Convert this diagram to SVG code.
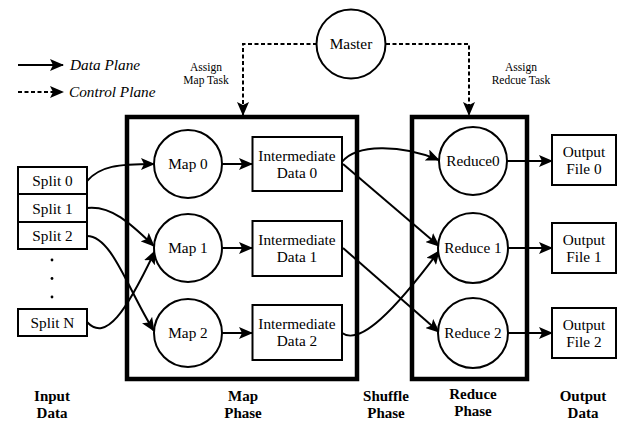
<svg xmlns="http://www.w3.org/2000/svg" width="619" height="421" viewBox="0 0 619 421">
  <style>
    text { font-family: "Liberation Serif", "Times New Roman", serif; fill: #000; }
    .lbl { font-size: 15.3px; text-anchor: middle; }
    .small { font-size: 11.5px; text-anchor: middle; }
    .leg { font-size: 15.3px; font-style: italic; }
    .phase { font-size: 15px; font-weight: bold; text-anchor: middle; }
    .node { fill: #fff; stroke: #000; stroke-width: 2; }
    .stage { fill: none; stroke: #000; stroke-width: 4.5; }
    .flow { fill: none; stroke: #000; stroke-width: 2; marker-end: url(#arrow); }
    .ctrl { fill: none; stroke: #000; stroke-width: 2; stroke-dasharray: 4 2.5; marker-end: url(#arrow); }
  </style>
  <defs>
    <marker id="arrow" markerUnits="userSpaceOnUse" markerWidth="14" markerHeight="12" viewBox="0 0 14 12" refX="13" refY="6" orient="auto">
      <path d="M0,0 L14,6 L0,12 L3,6 Z" fill="#000"/>
    </marker>
  </defs>

  <!-- legend -->
  <g id="legend">
    <line class="flow" x1="18" y1="65" x2="63" y2="65"/>
    <text class="leg" x="70" y="70">Data Plane</text>
    <line class="ctrl" x1="18" y1="92" x2="63" y2="92"/>
    <text class="leg" x="69" y="97">Control Plane</text>
  </g>

  <!-- phase containers -->
  <g id="map-phase">
    <rect class="stage" x="127" y="117" width="230" height="262"/>
  </g>
  <g id="reduce-phase">
    <rect class="stage" x="412" y="117" width="115" height="262"/>
  </g>

  <!-- connectors -->
  <g id="connectors">
    <!-- control plane -->
    <polyline class="ctrl" points="317,44 243,44 243,115"/>
    <polyline class="ctrl" points="386,44 469,44 469,115"/>
    <!-- splits to mappers -->
    <path class="flow" d="M87,181 C100,166 118,164 154,164"/>
    <path class="flow" d="M87,208 C112,205 132,225 154,246"/>
    <path class="flow" d="M87,236 C112,236 128,290 154,331"/>
    <path class="flow" d="M87,322 C106,342 126,312 155,251"/>
    <!-- mappers to intermediate data -->
    <line class="flow" x1="222" y1="164" x2="252" y2="164"/>
    <line class="flow" x1="222" y1="248" x2="252" y2="248"/>
    <line class="flow" x1="222" y1="333" x2="252" y2="333"/>
    <!-- shuffle -->
    <path class="flow" d="M342,162 C356,144 400,144 439,160"/>
    <line class="flow" x1="343" y1="164" x2="439" y2="246"/>
    <line class="flow" x1="343" y1="248" x2="439" y2="332"/>
    <path class="flow" d="M342,333 C360,346 395,310 439,251"/>
    <!-- reducers to output -->
    <line class="flow" x1="507" y1="161" x2="552" y2="161"/>
    <line class="flow" x1="508" y1="248" x2="552" y2="248"/>
    <line class="flow" x1="508" y1="333" x2="552" y2="333"/>
  </g>

  <g id="master">
    <circle class="node" cx="351" cy="44" r="34.5"/>
    <text class="lbl" x="351" y="49">Master</text>
  </g>
  <g id="assign-map-label">
    <text class="small" x="206" y="71">Assign</text>
    <text class="small" x="206" y="84">Map Task</text>
  </g>
  <g id="assign-reduce-label">
    <text class="small" x="521" y="71">Assign</text>
    <text class="small" x="521" y="84">Redcue Task</text>
  </g>

  <!-- input splits -->
  <g id="split-0">
    <rect class="node" x="18" y="167" width="69" height="27"/>
    <text class="lbl" x="52.5" y="186">Split 0</text>
  </g>
  <g id="split-1">
    <rect class="node" x="18" y="194" width="69" height="28"/>
    <text class="lbl" x="52.5" y="213.5">Split 1</text>
  </g>
  <g id="split-2">
    <rect class="node" x="18" y="222" width="69" height="27"/>
    <text class="lbl" x="52.5" y="241">Split 2</text>
  </g>
  <g id="split-dots">
    <circle cx="52" cy="260" r="1.4" fill="#000"/>
    <circle cx="52" cy="278.5" r="1.4" fill="#000"/>
    <circle cx="52" cy="297" r="1.4" fill="#000"/>
  </g>
  <g id="split-n">
    <rect class="node" x="18" y="309" width="69" height="27"/>
    <text class="lbl" x="52.5" y="328">Split N</text>
  </g>

  <!-- mappers -->
  <g id="map-0">
    <circle class="node" cx="188" cy="164" r="34"/>
    <text class="lbl" x="188" y="169">Map 0</text>
  </g>
  <g id="map-1">
    <circle class="node" cx="188" cy="248" r="34"/>
    <text class="lbl" x="188" y="253">Map 1</text>
  </g>
  <g id="map-2">
    <circle class="node" cx="188" cy="333" r="34"/>
    <text class="lbl" x="188" y="338">Map 2</text>
  </g>

  <!-- intermediate data -->
  <g id="inter-0">
    <rect class="node" x="252.5" y="137" width="89.5" height="54"/>
    <text class="lbl" x="297" y="161">Intermediate</text>
    <text class="lbl" x="297" y="178">Data 0</text>
  </g>
  <g id="inter-1">
    <rect class="node" x="252.5" y="221" width="89.5" height="55"/>
    <text class="lbl" x="297" y="245">Intermediate</text>
    <text class="lbl" x="297" y="262">Data 1</text>
  </g>
  <g id="inter-2">
    <rect class="node" x="252.5" y="305" width="89.5" height="55"/>
    <text class="lbl" x="297" y="329">Intermediate</text>
    <text class="lbl" x="297" y="346">Data 2</text>
  </g>

  <!-- reducers -->
  <g id="reduce-0">
    <circle class="node" cx="473" cy="161" r="34"/>
    <text class="lbl" x="473" y="166">Reduce0</text>
  </g>
  <g id="reduce-1">
    <circle class="node" cx="473" cy="248" r="35"/>
    <text class="lbl" x="473" y="253">Reduce 1</text>
  </g>
  <g id="reduce-2">
    <circle class="node" cx="473" cy="333" r="35"/>
    <text class="lbl" x="473" y="338">Reduce 2</text>
  </g>

  <!-- output files -->
  <g id="output-0">
    <rect class="node" x="552" y="135" width="64" height="50"/>
    <text class="lbl" x="584" y="157">Output</text>
    <text class="lbl" x="584" y="174">File 0</text>
  </g>
  <g id="output-1">
    <rect class="node" x="552" y="223" width="64" height="50"/>
    <text class="lbl" x="584" y="245">Output</text>
    <text class="lbl" x="584" y="262">File 1</text>
  </g>
  <g id="output-2">
    <rect class="node" x="552" y="308" width="64" height="50"/>
    <text class="lbl" x="584" y="330">Output</text>
    <text class="lbl" x="584" y="347">File 2</text>
  </g>

  <!-- stage captions -->
  <g id="captions">
    <text class="phase" x="52" y="401">Input</text>
    <text class="phase" x="52" y="418">Data</text>
    <text class="phase" x="243" y="401">Map</text>
    <text class="phase" x="243" y="418">Phase</text>
    <text class="phase" x="386" y="401">Shuffle</text>
    <text class="phase" x="386" y="418">Phase</text>
    <text class="phase" x="473" y="399">Reduce</text>
    <text class="phase" x="473" y="416">Phase</text>
    <text class="phase" x="583" y="401">Output</text>
    <text class="phase" x="583" y="418">Data</text>
  </g>
</svg>
